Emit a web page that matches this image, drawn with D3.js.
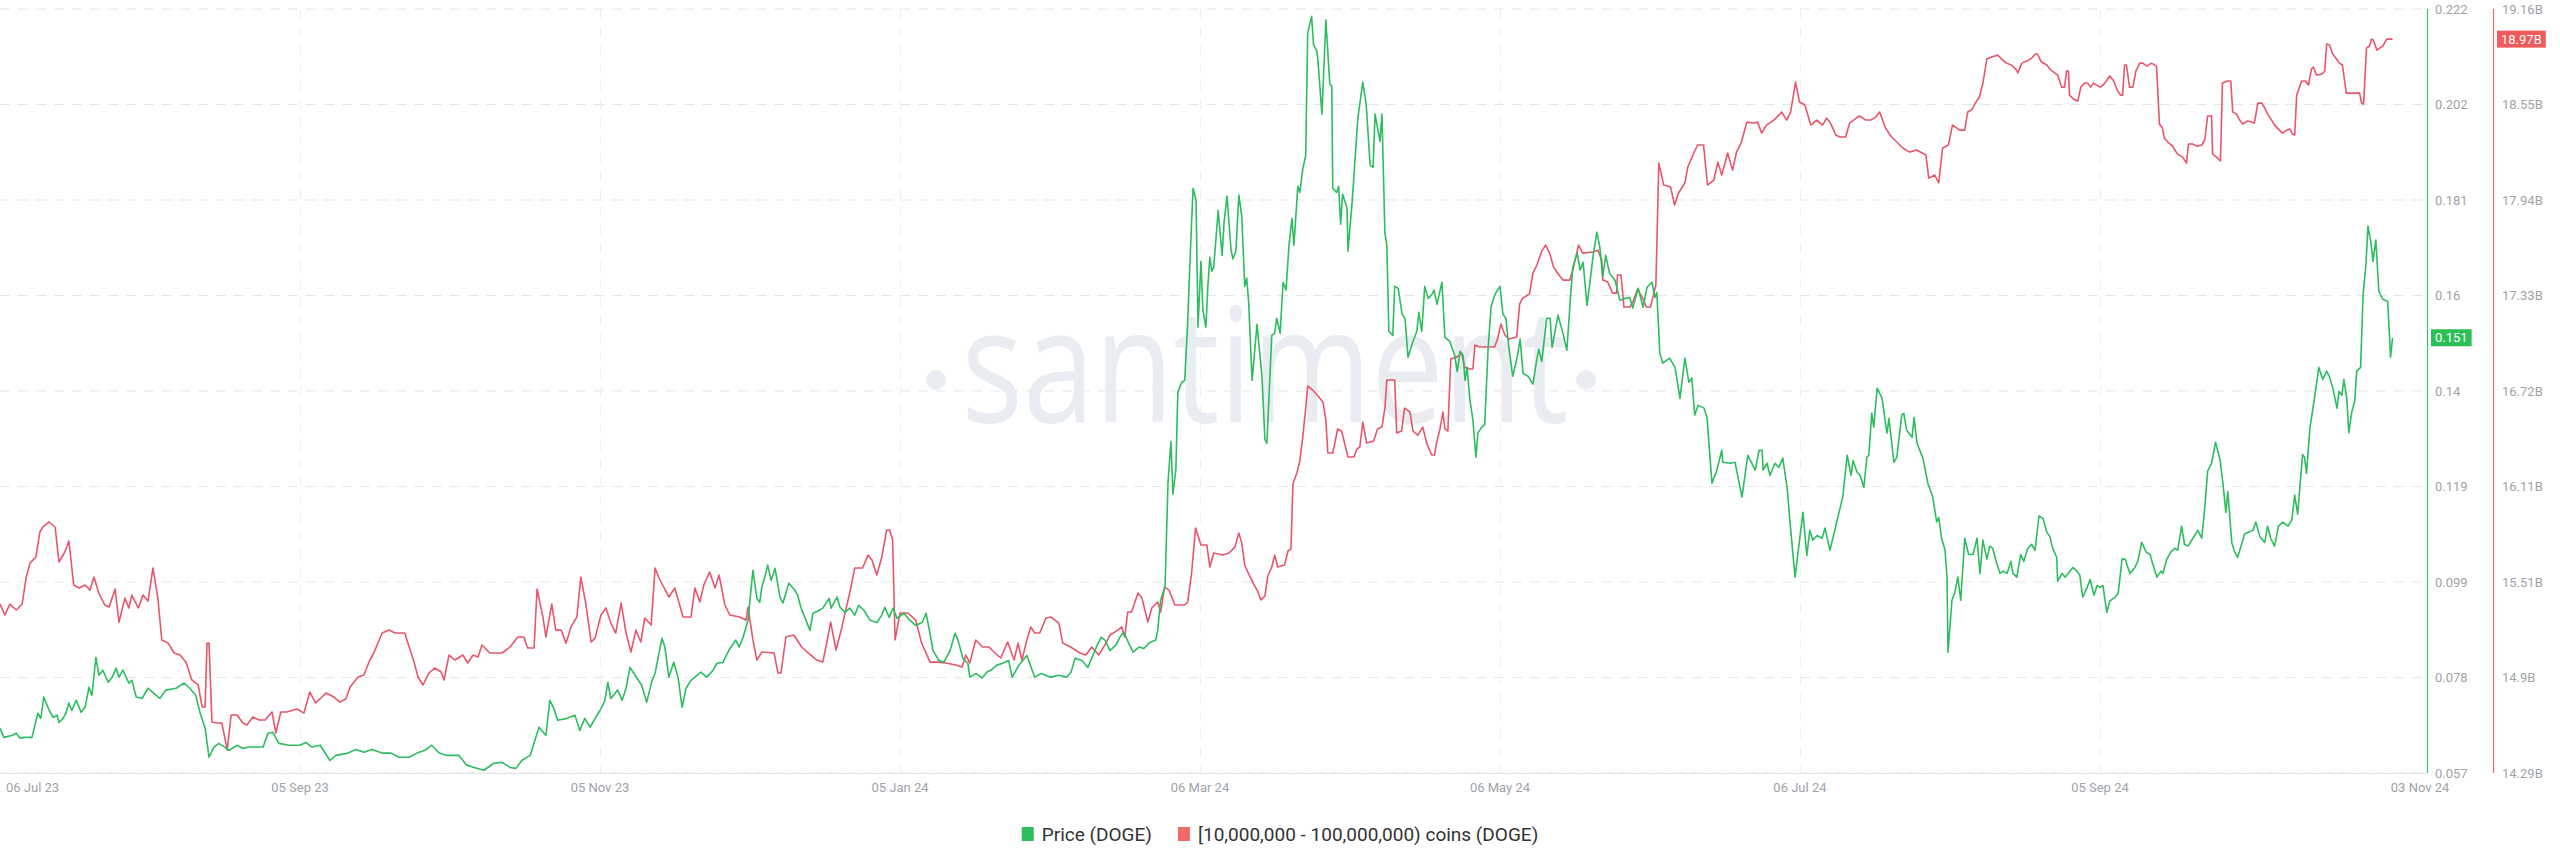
<!DOCTYPE html>
<html>
<head>
<meta charset="utf-8">
<script src="https://cdn.jsdelivr.net/npm/d3@7"></script>
<style>
  body { margin: 0; background: #fff; }
  svg { display: block; font-family: Roboto, "Open Sans", sans-serif; }
</style>
</head>
<body>
<div id="chart"></div>
<script>
document.addEventListener('DOMContentLoaded', init, false);

const g_green = "#2dbd5e";
const g_red = "#e8566a";

// first day of both series, everything below is [days since start, value]
const startDate = "2023-07-06";
const dateTicks = ["2023-07-06", "2023-09-05", "2023-11-05", "2024-01-05", "2024-03-06",
  "2024-05-06", "2024-07-06", "2024-09-05", "2024-11-03"];
const priceTicks = ["0.057", "0.078", "0.099", "0.119", "0.14", "0.16", "0.181", "0.202", "0.222"];
const holderTicks = ["14.29B", "14.9B", "15.51B", "16.11B", "16.72B", "17.33B", "17.94B", "18.55B", "19.16B"];
const legendLabels = ["Price (DOGE)", "[10,000,000 - 100,000,000) coins (DOGE)"];

// DOGE price, USD
const priceSeries = [
  [0,0.0667],[0.8,0.0647],[2.4,0.0651],[3.3,0.0656],[4.1,0.0645],[4.9,0.0647],[6.5,0.0647],[7.7,0.0699],
  [8.3,0.0688],[8.9,0.0734],[10.0,0.0705],[10.8,0.0690],[11.6,0.0695],[12.0,0.0679],[12.8,0.0688],[13.4,0.0699],
  [14.0,0.0721],[14.6,0.0705],[15.5,0.0727],[16.5,0.0701],[17.3,0.0712],[18.1,0.0755],[18.7,0.0738],[19.5,0.0820],
  [20.1,0.0781],[20.9,0.0792],[22.0,0.0766],[22.8,0.0777],[23.6,0.0796],[24.2,0.0777],[25.0,0.0792],[26.2,0.0764],
  [26.8,0.0770],[27.7,0.0734],[28.9,0.0731],[30.1,0.0753],[31.3,0.0742],[32.5,0.0731],[33.7,0.0749],[35.8,0.0753],
  [37.4,0.0764],[38.6,0.0753],[39.8,0.0738],[40.7,0.0699],[41.7,0.0667],[42.5,0.0604],[43.5,0.0626],[44.5,0.0634],
  [45.7,0.0626],[46.6,0.0619],[48.2,0.0630],[49.4,0.0623],[50.6,0.0626],[53.5,0.0626],[54.5,0.0656],[55.5,0.0658],
  [56.7,0.0634],[58.8,0.0630],[61.0,0.0630],[62.2,0.0636],[63.4,0.0626],[65.1,0.0630],[67.1,0.0597],[68.3,0.0608],
  [70.8,0.0613],[72.4,0.0621],[74.0,0.0615],[75.6,0.0621],[77.7,0.0613],[79.5,0.0613],[81.1,0.0604],[83.2,0.0604],
  [84.8,0.0613],[86.4,0.0619],[87.8,0.0630],[89.3,0.0613],[90.9,0.0608],[93.3,0.0608],[94.9,0.0587],[96.4,0.0582],
  [98.4,0.0576],[100.4,0.0591],[102.1,0.0593],[103.7,0.0582],[104.9,0.0580],[106.1,0.0597],[107.8,0.0608],[109.6,0.0669],
  [111.0,0.0651],[111.8,0.0727],[112.6,0.0710],[113.4,0.0684],[115.3,0.0688],[116.9,0.0695],[117.9,0.0662],[118.9,0.0688],
  [120.0,0.0669],[121.0,0.0688],[122.0,0.0705],[123.0,0.0727],[123.6,0.0766],[124.2,0.0731],[125.6,0.0749],[126.5,0.0727],
  [127.3,0.0753],[128.1,0.0798],[128.9,0.0785],[130.5,0.0759],[131.5,0.0723],[132.6,0.0770],[133.2,0.0785],[133.6,0.0807],
  [134.6,0.0861],[135.2,0.0842],[136.0,0.0777],[137.0,0.0809],[137.9,0.0775],[138.7,0.0712],[139.5,0.0753],[140.5,0.0770],
  [141.3,0.0777],[142.5,0.0788],[143.7,0.0777],[145.0,0.0792],[145.8,0.0807],[147.0,0.0809],[148.2,0.0835],[149.6,0.0857],
  [150.3,0.0842],[151.1,0.0863],[152.1,0.0900],[153.1,0.1008],[153.9,0.0947],[154.5,0.0939],[154.9,0.0971],[155.7,0.1001],
  [156.1,0.1019],[156.8,0.0986],[157.6,0.1012],[158.6,0.0950],[159.2,0.0937],[160.4,0.0980],[161.6,0.0965],[162.2,0.0954],
  [162.9,0.0926],[164.7,0.0878],[165.3,0.0915],[166.5,0.0921],[167.3,0.0926],[168.6,0.0947],[169.0,0.0926],[170.2,0.0950],
  [170.8,0.0928],[171.8,0.0917],[172.8,0.0926],[173.8,0.0911],[174.6,0.0932],[175.7,0.0921],[176.9,0.0900],[178.3,0.0895],
  [179.3,0.0911],[179.9,0.0928],[180.8,0.0906],[181.6,0.0926],[182.4,0.0904],[183.8,0.0915],[185.0,0.0900],[186.2,0.0889],
  [187.5,0.0895],[188.3,0.0915],[189.1,0.0872],[189.7,0.0835],[190.3,0.0824],[190.9,0.0813],[191.9,0.0809],[193.2,0.0835],
  [194.2,0.0872],[194.8,0.0857],[195.8,0.0818],[196.8,0.0807],[197.2,0.0777],[198.5,0.0785],[199.7,0.0775],[200.7,0.0788],
  [201.5,0.0792],[202.7,0.0803],[203.9,0.0807],[205.1,0.0813],[205.8,0.0777],[207.2,0.0803],[208.8,0.0824],[210.4,0.0777],
  [211.7,0.0785],[213.7,0.0777],[215.3,0.0781],[216.9,0.0777],[217.8,0.0788],[218.6,0.0818],[220.0,0.0813],[221.2,0.0798],
  [222.0,0.0818],[223.1,0.0846],[223.9,0.0863],[224.7,0.0857],[225.7,0.0835],[226.9,0.0846],[227.7,0.0863],[228.5,0.0874],
  [229.7,0.0846],[230.4,0.0831],[231.6,0.0842],[232.6,0.0839],[233.8,0.0852],[235.0,0.0857],[235.4,0.0878],[236.0,0.0943],
  [236.9,0.0973],[237.5,0.1198],[238.1,0.1286],[238.5,0.1172],[239.1,0.1226],[239.5,0.1392],[240.3,0.1414],[240.9,0.1418],
  [241.5,0.1543],[242.1,0.1710],[242.6,0.1833],[243.2,0.1807],[243.6,0.1533],[244.2,0.1675],[244.6,0.1569],[245.2,0.1533],
  [245.6,0.1621],[246.0,0.1684],[246.4,0.1654],[246.8,0.1662],[247.7,0.1785],[248.5,0.1688],[248.9,0.1759],[249.5,0.1816],
  [250.3,0.1701],[250.7,0.1680],[251.3,0.1697],[251.9,0.1818],[252.5,0.1772],[253.1,0.1621],[253.5,0.1639],[253.9,0.1587],
  [254.6,0.1418],[255.6,0.1539],[256.6,0.1427],[257.2,0.1291],[257.6,0.1282],[258.6,0.1515],[259.2,0.1520],[259.6,0.1552],
  [260.3,0.1520],[260.9,0.1630],[261.5,0.1613],[262.1,0.1710],[262.7,0.1768],[263.1,0.1710],[263.9,0.1837],[264.3,0.1824],
  [264.9,0.1874],[265.5,0.1904],[265.9,0.2168],[266.7,0.2204],[267.1,0.2142],[267.8,0.2129],[268.0,0.2107],[268.8,0.1993],
  [269.6,0.2196],[270.4,0.2058],[270.8,0.2053],[271.0,0.1833],[271.8,0.1824],[272.2,0.1837],[272.6,0.1755],[273.0,0.1820],
  [273.9,0.1790],[274.1,0.1697],[274.9,0.1798],[275.3,0.1859],[276.1,0.1984],[277.1,0.2062],[277.8,0.2014],[278.6,0.1883],
  [279.2,0.1878],[279.6,0.1993],[280.6,0.1934],[281.0,0.1993],[281.6,0.1736],[282.0,0.1710],[282.4,0.1524],[283.2,0.1515],
  [283.6,0.1621],[284.3,0.1617],[285.1,0.1561],[285.7,0.1552],[286.3,0.1468],[287.3,0.1502],[288.1,0.1524],[288.5,0.1565],
  [289.1,0.1524],[289.7,0.1621],[290.4,0.1595],[291.2,0.1604],[291.6,0.1613],[292.2,0.1582],[293.2,0.1630],[293.8,0.1511],
  [294.8,0.1502],[295.8,0.1472],[296.3,0.1437],[296.9,0.1481],[297.5,0.1472],[297.9,0.1418],[298.3,0.1446],[298.9,0.1375],
  [299.5,0.1332],[300.1,0.1252],[300.5,0.1304],[301.3,0.1317],[301.9,0.1323],[302.6,0.1489],[303.2,0.1578],[304.0,0.1604],
  [305.0,0.1621],[305.6,0.1561],[306.2,0.1552],[306.8,0.1489],[307.6,0.1427],[308.5,0.1468],[309.1,0.1507],[309.7,0.1433],
  [310.7,0.1427],[311.7,0.1410],[312.5,0.1464],[312.9,0.1485],[313.5,0.1459],[314.5,0.1552],[315.2,0.1552],[315.6,0.1489],
  [316.8,0.1559],[317.8,0.1520],[318.6,0.1483],[319.4,0.1606],[319.8,0.1662],[320.7,0.1693],[321.3,0.1656],[321.9,0.1673],
  [322.7,0.1580],[323.3,0.1630],[323.9,0.1684],[324.7,0.1738],[325.3,0.1706],[325.9,0.1641],[326.5,0.1688],[327.3,0.1649],
  [328.4,0.1634],[329.4,0.1591],[330.4,0.1595],[331.4,0.1597],[332.0,0.1574],[333.1,0.1617],[334.1,0.1576],[334.9,0.1619],
  [335.9,0.1630],[336.5,0.1597],[336.9,0.1608],[337.5,0.1477],[338.1,0.1455],[339.5,0.1466],[340.6,0.1446],[341.6,0.1379],
  [342.6,0.1466],[343.4,0.1414],[344.0,0.1423],[344.6,0.1343],[345.3,0.1364],[346.5,0.1358],[347.1,0.1338],[348.1,0.1196],
  [349.1,0.1224],[350.1,0.1267],[350.3,0.1241],[351.8,0.1239],[352.8,0.1241],[354.2,0.1166],[355.4,0.1256],[356.9,0.1224],
  [357.7,0.1267],[358.3,0.1267],[358.5,0.1224],[359.3,0.1239],[359.9,0.1213],[360.9,0.1239],[361.7,0.1230],[362.5,0.1250],
  [363.4,0.1185],[364.0,0.1109],[365.0,0.0993],[366.6,0.1133],[367.4,0.1040],[368.0,0.1094],[368.6,0.1073],[369.5,0.1083],
  [370.5,0.1077],[371.1,0.1099],[372.1,0.1051],[373.7,0.1122],[374.7,0.1166],[375.6,0.1256],[376.4,0.1213],[376.8,0.1245],
  [377.6,0.1220],[378.2,0.1213],[379.0,0.1187],[379.6,0.1252],[380.0,0.1256],[380.6,0.1347],[381.0,0.1317],[381.7,0.1401],
  [382.7,0.1379],[383.3,0.1332],[383.7,0.1304],[384.1,0.1336],[385.1,0.1241],[385.7,0.1252],[386.7,0.1343],[387.1,0.1347],
  [387.7,0.1310],[388.8,0.1295],[389.2,0.1338],[389.8,0.1282],[391.0,0.1250],[392.0,0.1196],[393.0,0.1166],[393.8,0.1112],
  [394.2,0.1122],[394.8,0.1077],[395.5,0.1051],[395.9,0.0993],[396.1,0.0831],[396.9,0.0943],[397.5,0.0960],[398.1,0.0993],
  [398.7,0.0943],[399.5,0.1077],[400.3,0.1042],[401.2,0.1042],[402.0,0.1077],[402.6,0.1001],[403.2,0.1073],[404.0,0.1032],
  [404.6,0.1060],[405.2,0.1055],[406.0,0.1023],[406.7,0.1001],[407.3,0.1006],[408.1,0.1001],[408.9,0.1027],[409.3,0.1001],
  [410.1,0.0993],[410.9,0.1042],[411.5,0.1027],[412.3,0.1055],[413.1,0.1064],[413.8,0.1051],[414.6,0.1125],[415.4,0.1120],
  [416.2,0.1090],[416.8,0.1081],[417.4,0.1055],[418.2,0.1036],[418.4,0.0984],[419.3,0.1001],[419.9,0.0993],[420.5,0.1001],
  [421.5,0.1014],[422.3,0.1006],[422.9,0.0997],[423.5,0.0950],[424.4,0.0971],[425.0,0.0988],[425.8,0.0954],[426.4,0.0975],
  [427.0,0.0971],[427.6,0.0975],[428.4,0.0917],[429.0,0.0941],[430.1,0.0950],[430.7,0.0958],[431.5,0.1032],[432.1,0.1032],
  [433.1,0.1001],[434.1,0.1014],[434.7,0.1027],[435.5,0.1068],[436.4,0.1047],[437.2,0.1042],[437.8,0.1019],[438.6,0.0993],
  [439.4,0.1006],[439.8,0.1001],[440.6,0.1032],[441.4,0.1047],[442.2,0.1055],[442.8,0.1051],[443.6,0.1103],[444.2,0.1064],
  [444.9,0.1060],[445.9,0.1077],[446.9,0.1094],[447.7,0.1077],[448.3,0.1142],[448.9,0.1222],[449.7,0.1239],[450.5,0.1284],
  [451.4,0.1248],[452.0,0.1196],[452.6,0.1133],[453.0,0.1178],[453.8,0.1068],[454.4,0.1047],[455.0,0.1036],[455.8,0.1064],
  [456.4,0.1086],[457.2,0.1090],[458.1,0.1094],[458.7,0.1112],[459.5,0.1081],[460.5,0.1068],[461.1,0.1103],[461.7,0.1077],
  [462.5,0.1060],[463.3,0.1103],[464.2,0.1112],[465.2,0.1103],[466.0,0.1116],[466.6,0.1170],[467.2,0.1129],[468.2,0.1258],
  [468.6,0.1252],[469.0,0.1217],[469.7,0.1315],[470.7,0.1386],[471.5,0.1446],[472.3,0.1420],[473.1,0.1438],[473.7,0.1425],
  [474.4,0.1399],[475.2,0.1358],[475.6,0.1394],[476.2,0.1386],[476.6,0.1420],[477.2,0.1377],[477.6,0.1305],[478.2,0.1349],
  [478.8,0.1373],[479.2,0.1438],[480.0,0.1446],[480.5,0.1602],[481.1,0.1671],[481.5,0.1751],[482.1,0.1716],[482.5,0.1675],
  [483.1,0.1721],[483.7,0.1611],[484.5,0.1593],[485.5,0.1589],[486.1,0.1468],[486.5,0.1510]
];

// supply held by [10M - 100M) DOGE wallets, billions of coins
const holderSeries = [
  [0,15.367],[1.0,15.297],[2.0,15.367],[3.3,15.329],[4.5,15.367],[5.3,15.533],[6.1,15.628],[7.3,15.667],
  [8.1,15.826],[8.7,15.858],[10.0,15.890],[11.2,15.858],[12.0,15.635],[13.2,15.699],[14.0,15.769],[15.0,15.488],
  [16.1,15.469],[17.3,15.488],[18.3,15.456],[19.1,15.539],[20.1,15.437],[21.3,15.361],[22.2,15.348],[23.4,15.463],
  [24.2,15.252],[25.4,15.405],[26.2,15.342],[26.8,15.424],[28.1,15.342],[29.1,15.424],[30.1,15.386],[31.1,15.597],
  [32.1,15.405],[32.9,15.138],[34.2,15.118],[35.4,15.055],[36.6,15.042],[37.8,14.997],[39.0,14.883],[40.3,14.851],
  [41.1,14.711],[41.7,14.711],[42.1,15.118],[42.5,15.118],[43.1,14.615],[44.1,14.609],[45.1,14.609],[46.2,14.436],
  [47.0,14.660],[48.2,14.660],[49.4,14.609],[50.2,14.596],[51.4,14.647],[52.7,14.628],[53.9,14.628],[55.3,14.679],
  [56.1,14.545],[57.1,14.679],[58.3,14.679],[60.4,14.698],[61.8,14.672],[63.0,14.806],[64.2,14.736],[66.3,14.800],
  [67.9,14.774],[69.1,14.742],[70.3,14.762],[71.2,14.838],[72.8,14.902],[74.0,14.915],[75.2,15.010],[76.0,15.055],
  [77.7,15.182],[79.1,15.201],[80.3,15.182],[82.3,15.182],[83.2,15.093],[84.2,14.997],[85.0,14.902],[86.0,14.851],
  [87.2,14.927],[88.4,14.959],[89.7,14.934],[90.3,14.883],[91.3,15.042],[92.5,15.010],[94.1,15.042],[95.1,14.991],
  [96.2,15.042],[97.2,15.029],[98.0,15.106],[99.6,15.055],[102.1,15.055],[103.7,15.093],[105.3,15.157],[106.5,15.157],
  [107.3,15.087],[108.6,15.087],[109.2,15.463],[110.4,15.284],[111.0,15.157],[112.2,15.367],[113.0,15.201],[114.1,15.201],
  [115.1,15.118],[116.1,15.221],[117.3,15.284],[118.1,15.539],[119.1,15.373],[120.2,15.125],[121.0,15.150],[122.2,15.297],
  [123.2,15.342],[124.2,15.246],[125.2,15.182],[126.3,15.373],[127.3,15.182],[128.3,15.061],[129.3,15.201],[130.3,15.125],
  [131.1,15.278],[132.4,15.233],[133.2,15.597],[134.0,15.533],[136.0,15.412],[137.2,15.469],[138.9,15.284],[140.5,15.284],
  [141.3,15.469],[142.3,15.380],[143.1,15.488],[144.3,15.571],[145.4,15.469],[146.2,15.552],[147.4,15.361],[148.4,15.297],
  [150.4,15.284],[151.7,15.265],[152.1,15.348],[153.1,15.138],[153.9,15.010],[154.9,15.061],[157.4,15.055],[158.2,14.927],
  [158.8,14.927],[159.8,15.157],[161.4,15.170],[163.0,15.093],[164.3,15.055],[166.1,15.010],[167.3,14.997],[168.1,15.118],
  [168.9,15.252],[170.0,15.074],[171.2,15.221],[173.0,15.469],[173.8,15.597],[175.4,15.597],[176.5,15.679],[177.3,15.648],
  [178.3,15.552],[179.3,15.667],[180.3,15.839],[180.9,15.839],[181.5,15.775],[182.0,15.138],[183.0,15.310],[184.6,15.310],
  [186.2,15.265],[187.4,15.118],[188.3,15.055],[189.1,14.997],[190.7,14.997],[192.3,14.991],[194.4,14.978],[195.6,14.965],
  [196.4,15.042],[197.2,14.991],[198.4,15.138],[199.8,15.093],[201.1,15.093],[202.3,15.055],[203.5,15.023],[204.9,15.125],
  [206.2,15.010],[207.0,15.118],[207.8,15.010],[208.8,15.138],[209.6,15.221],[210.4,15.182],[211.4,15.182],[212.7,15.278],
  [213.7,15.284],[215.3,15.246],[216.1,15.118],[217.7,15.093],[219.6,15.055],[220.8,15.042],[222.0,15.093],[223.4,15.042],
  [224.9,15.118],[225.7,15.170],[227.3,15.201],[228.1,15.221],[228.7,15.157],[229.3,15.316],[230.1,15.316],[231.4,15.437],
  [232.2,15.405],[233.4,15.252],[234.2,15.342],[235.4,15.380],[236.0,15.316],[236.8,15.475],[237.7,15.456],[238.9,15.361],
  [240.9,15.361],[241.5,15.380],[242.3,15.565],[243.1,15.851],[244.2,15.743],[245.4,15.743],[246.0,15.603],[246.8,15.692],
  [248.6,15.679],[249.9,15.692],[251.1,15.730],[251.9,15.820],[252.5,15.756],[253.1,15.616],[254.1,15.546],[254.9,15.495],
  [255.8,15.444],[256.4,15.393],[257.2,15.418],[257.8,15.546],[258.6,15.603],[259.2,15.679],[259.8,15.603],[261.2,15.616],
  [261.9,15.705],[262.5,15.718],[262.9,16.132],[263.7,16.202],[264.3,16.279],[264.9,16.432],[265.5,16.616],[265.9,16.757],
  [266.9,16.731],[268.0,16.693],[269.0,16.655],[269.6,16.540],[270.0,16.330],[271.0,16.330],[272.0,16.483],[272.8,16.470],
  [273.4,16.393],[274.1,16.304],[275.3,16.304],[275.9,16.355],[276.5,16.368],[277.1,16.527],[277.9,16.393],[279.3,16.406],
  [280.1,16.483],[281.0,16.495],[281.6,16.616],[282.0,16.795],[283.6,16.795],[284.0,16.457],[285.0,16.470],[285.6,16.616],
  [286.7,16.591],[287.3,16.470],[288.3,16.444],[289.3,16.495],[290.1,16.393],[291.1,16.317],[291.7,16.317],[292.1,16.393],
  [292.8,16.483],[293.4,16.591],[293.8,16.483],[294.4,16.470],[295.0,16.929],[296.2,16.941],[297.2,16.967],[297.8,16.878],
  [298.9,16.865],[299.5,16.865],[299.9,17.018],[300.9,17.005],[303.9,17.005],[304.5,17.056],[305.2,17.152],[306.0,17.082],
  [306.8,17.056],[308.4,17.069],[309.0,17.279],[309.6,17.317],[311.0,17.343],[311.7,17.477],[312.5,17.528],[313.5,17.617],
  [314.3,17.655],[315.1,17.604],[315.9,17.515],[316.7,17.477],[317.8,17.432],[319.2,17.432],[319.8,17.496],[320.6,17.604],
  [321.0,17.655],[321.8,17.604],[323.9,17.611],[324.9,17.623],[325.7,17.560],[325.9,17.432],[326.9,17.420],[327.9,17.349],
  [328.7,17.349],[328.9,17.464],[329.6,17.464],[330.0,17.337],[330.2,17.260],[331.4,17.260],[332.0,17.292],[333.0,17.375],
  [334.0,17.317],[334.8,17.260],[335.6,17.260],[336.3,17.349],[336.7,17.400],[337.3,18.178],[338.3,18.038],[339.7,18.025],
  [340.5,17.910],[341.3,17.987],[342.6,18.051],[343.2,18.153],[344.4,18.242],[345.2,18.293],[346.4,18.293],[347.2,18.038],
  [348.5,18.070],[349.3,18.184],[350.1,18.102],[351.3,18.242],[352.3,18.133],[353.1,18.248],[354.1,18.312],[355.2,18.439],
  [356.6,18.433],[357.4,18.439],[358.2,18.369],[359.2,18.420],[360.7,18.452],[362.3,18.503],[363.3,18.452],[364.1,18.503],
  [365.1,18.694],[365.9,18.567],[367.0,18.548],[368.2,18.420],[369.4,18.452],[370.6,18.420],[371.4,18.465],[372.2,18.433],
  [373.3,18.357],[374.1,18.344],[375.3,18.344],[376.1,18.433],[376.9,18.452],[378.1,18.478],[379.4,18.452],[380.4,18.452],
  [381.4,18.471],[382.2,18.503],[383.4,18.401],[384.6,18.344],[385.7,18.312],[386.9,18.274],[388.3,18.248],[389.7,18.261],
  [391.6,18.229],[392.2,18.082],[393.4,18.102],[394.2,18.051],[395.0,18.274],[396.2,18.293],[397.0,18.420],[398.5,18.388],
  [399.5,18.388],[400.1,18.503],[400.9,18.516],[401.9,18.573],[402.5,18.599],[403.2,18.688],[404.0,18.841],[405.0,18.854],
  [406.2,18.866],[407.0,18.841],[408.0,18.815],[409.0,18.803],[409.9,18.777],[410.3,18.752],[411.1,18.815],[412.1,18.828],
  [413.1,18.847],[413.9,18.873],[414.3,18.873],[415.1,18.822],[416.2,18.803],[416.8,18.777],[417.6,18.758],[418.4,18.739],
  [419.2,18.662],[419.8,18.662],[420.2,18.764],[420.6,18.764],[420.8,18.611],[421.6,18.586],[422.5,18.573],[423.1,18.662],
  [423.9,18.688],[424.5,18.688],[425.1,18.662],[425.7,18.688],[426.3,18.675],[427.1,18.662],[428.0,18.688],[429.0,18.733],
  [429.8,18.701],[430.6,18.637],[431.2,18.611],[431.6,18.611],[432.0,18.803],[432.4,18.803],[433.0,18.662],[433.7,18.662],
  [434.3,18.764],[435.1,18.815],[435.7,18.815],[436.5,18.796],[437.5,18.815],[438.5,18.796],[439.1,18.427],[439.7,18.401],
  [440.1,18.337],[440.8,18.312],[441.8,18.286],[442.2,18.261],[442.8,18.235],[443.8,18.216],[444.6,18.178],[445.0,18.299],
  [445.8,18.299],[446.7,18.286],[447.7,18.293],[448.3,18.325],[448.9,18.478],[449.7,18.478],[449.9,18.235],[450.7,18.216],
  [451.5,18.191],[451.9,18.688],[453.0,18.701],[453.6,18.701],[454.0,18.503],[454.8,18.490],[455.4,18.452],[456.0,18.427],
  [457.0,18.446],[457.8,18.440],[458.4,18.433],[459.1,18.560],[459.9,18.560],[460.5,18.529],[461.1,18.490],[461.9,18.452],
  [462.5,18.420],[463.5,18.388],[464.1,18.369],[465.0,18.388],[465.6,18.395],[466.2,18.363],[466.6,18.357],[467.0,18.611],
  [468.0,18.701],[468.8,18.701],[469.4,18.675],[470.0,18.777],[470.4,18.790],[471.0,18.739],[472.1,18.745],[472.7,18.764],
  [473.1,18.937],[473.7,18.930],[474.3,18.873],[475.1,18.841],[475.7,18.815],[476.3,18.803],[477.1,18.624],[479.2,18.624],
  [479.8,18.624],[480.2,18.560],[480.6,18.554],[481.2,18.911],[481.8,18.924],[482.2,18.968],[482.6,18.962],[483.3,18.898],
  [483.9,18.911],[484.5,18.924],[485.3,18.968],[486.5,18.968]
];

function init() {
  var width = 2560,
    height = 867,
    plotRight = 2427,   // green axis line
    holdAxisX = 2493,   // red axis line
    plotTop = 9,
    plotBottom = 773;

  var svg = d3.select("#chart")
    .append("svg")
    .attr("width", width)
    .attr("height", height);

  svg.append("rect").attr("width", width).attr("height", height).attr("fill", "#fff");

  var parse = d3.timeParse("%Y-%m-%d");
  var t0 = parse(startDate);
  var toDate = function (d) { return new Date(+t0 + d * 864e5); };

  var x = d3.scaleTime()
    .domain([t0, toDate(493.5)])
    .range([0, plotRight]);

  var yPrice = d3.scaleLinear()
    .domain([+priceTicks[0], +priceTicks[priceTicks.length - 1]])
    .range([plotBottom, plotTop]);

  var yHold = d3.scaleLinear()
    .domain([parseFloat(holderTicks[0]), parseFloat(holderTicks[holderTicks.length - 1])])
    .range([plotBottom, plotTop]);

  // evenly spaced ticks, same rows on both axes
  var n = priceTicks.length - 1;
  var tickVals = d3.range(n + 1).map(function (i) {
    var dm = yPrice.domain();
    return dm[0] + i * (dm[1] - dm[0]) / n;
  });

  var grid = svg.append("g");
  grid.selectAll(".hgrid")
    .data(tickVals)
    .enter().append("line")
    .attr("x1", 0).attr("x2", plotRight)
    .attr("y1", function (d) { return yPrice(d); })
    .attr("y2", function (d) { return yPrice(d); })
    .attr("stroke", "#e6e7e9")
    .attr("stroke-width", 1)
    .attr("stroke-dasharray", "10,8");

  grid.selectAll(".vgrid")
    .data(dateTicks.slice(1, -1))
    .enter().append("line")
    .attr("x1", function (d) { return Math.round(x(parse(d))) + 0.5; })
    .attr("x2", function (d) { return Math.round(x(parse(d))) + 0.5; })
    .attr("y1", plotTop).attr("y2", plotBottom)
    .attr("stroke", "#eeeff1")
    .attr("stroke-width", 1)
    .attr("stroke-dasharray", "10,8");

  // watermark
  var wm = svg.append("g").attr("fill", "#e9ecf0");
  wm.append("text")
    .attr("x", 1265).attr("y", 422)
    .attr("text-anchor", "middle")
    .attr("font-family", "'Open Sans', sans-serif")
    .attr("font-size", 160)
    .attr("textLength", 607)
    .attr("lengthAdjust", "spacingAndGlyphs")
    .text("santiment");
  wm.append("circle").attr("cx", 936).attr("cy", 380).attr("r", 10);
  wm.append("circle").attr("cx", 1586).attr("cy", 380).attr("r", 10);

  // bottom axis line
  svg.append("line")
    .attr("x1", 0).attr("x2", plotRight)
    .attr("y1", plotBottom + 0.5).attr("y2", plotBottom + 0.5)
    .attr("stroke", "#e3e4e6");

  // date labels
  svg.append("g")
    .selectAll("text")
    .data(dateTicks)
    .enter().append("text")
    .attr("x", function (d, i) {
      if (i === 0) return 6;
      if (i === dateTicks.length - 1) return x(parse(d)) + 30;
      return x(parse(d));
    })
    .attr("y", 792)
    .attr("text-anchor", function (d, i) { return i === 0 ? "start" : "middle"; })
    .attr("font-size", 13)
    .attr("fill", "#9ea3a8")
    .text(function (d) { return d3.timeFormat("%d %b %y")(parse(d)); });

  // lines
  var priceLine = d3.line()
    .x(function (d) { return x(toDate(d[0])); })
    .y(function (d) { return yPrice(d[1]); });
  var holdLine = d3.line()
    .x(function (d) { return x(toDate(d[0])); })
    .y(function (d) { return yHold(d[1]); });

  svg.append("path")
    .datum(holderSeries)
    .attr("d", holdLine)
    .attr("fill", "none")
    .attr("stroke", g_red)
    .attr("stroke-width", 1.6)
    .attr("stroke-linejoin", "round");

  svg.append("path")
    .datum(priceSeries)
    .attr("d", priceLine)
    .attr("fill", "none")
    .attr("stroke", g_green)
    .attr("stroke-width", 1.6)
    .attr("stroke-linejoin", "round");

  // right axes
  svg.append("line")
    .attr("x1", plotRight + 0.5).attr("x2", plotRight + 0.5)
    .attr("y1", plotTop).attr("y2", plotBottom)
    .attr("stroke", "#3cc46a").attr("stroke-width", 1.2);
  svg.append("line")
    .attr("x1", holdAxisX + 0.5).attr("x2", holdAxisX + 0.5)
    .attr("y1", plotTop).attr("y2", plotBottom)
    .attr("stroke", "#ef6b6b").attr("stroke-width", 1.2);

  svg.append("g")
    .selectAll("text")
    .data(tickVals)
    .enter().append("text")
    .attr("x", plotRight + 8)
    .attr("y", function (d) { return yPrice(d); })
    .attr("dy", "0.35em")
    .attr("font-size", 13)
    .attr("fill", "#9ea3a8")
    .text(function (d, i) { return priceTicks[i]; });

  svg.append("g")
    .selectAll("text")
    .data(tickVals)
    .enter().append("text")
    .attr("x", holdAxisX + 9)
    .attr("y", function (d) { return yPrice(d); })
    .attr("dy", "0.35em")
    .attr("font-size", 13)
    .attr("fill", "#9ea3a8")
    .text(function (d, i) { return holderTicks[i]; });

  // last value badges
  var lastPrice = priceSeries[priceSeries.length - 1][1];
  var lastHold = holderSeries[holderSeries.length - 1][1];

  function badge(bx, by, label, color) {
    var g = svg.append("g");
    var t = g.append("text")
      .attr("x", bx + 4).attr("y", by)
      .attr("dy", "0.35em")
      .attr("font-size", 13)
      .attr("fill", "#fff")
      .text(label);
    var w = t.node().getComputedTextLength();
    g.insert("rect", "text")
      .attr("x", bx).attr("y", by - 8.5)
      .attr("width", w + 8).attr("height", 17)
      .attr("fill", color);
  }
  badge(plotRight + 4, yPrice(lastPrice), d3.format(".3f")(lastPrice), "#2dbf57");
  badge(holdAxisX + 4, yHold(lastHold), d3.format(".2f")(lastHold) + "B", "#f05a5a");

  // legend
  var legend = svg.append("g");
  var colors = [g_green, "#f06a6a"];
  var cx = 0;
  legendLabels.forEach(function (lab, i) {
    legend.append("rect")
      .attr("x", cx).attr("y", 827)
      .attr("width", 12).attr("height", 14)
      .attr("fill", colors[i]);
    var t = legend.append("text")
      .attr("x", cx + 20).attr("y", 841)
      .attr("font-size", 19)
      .attr("fill", "#333")
      .text(lab);
    cx += 20 + t.node().getComputedTextLength() + 26;
  });
  var lw = cx - 26;
  legend.attr("transform", "translate(" + (width / 2 - lw / 2) + ",0)");
}
</script>
</body>
</html>
